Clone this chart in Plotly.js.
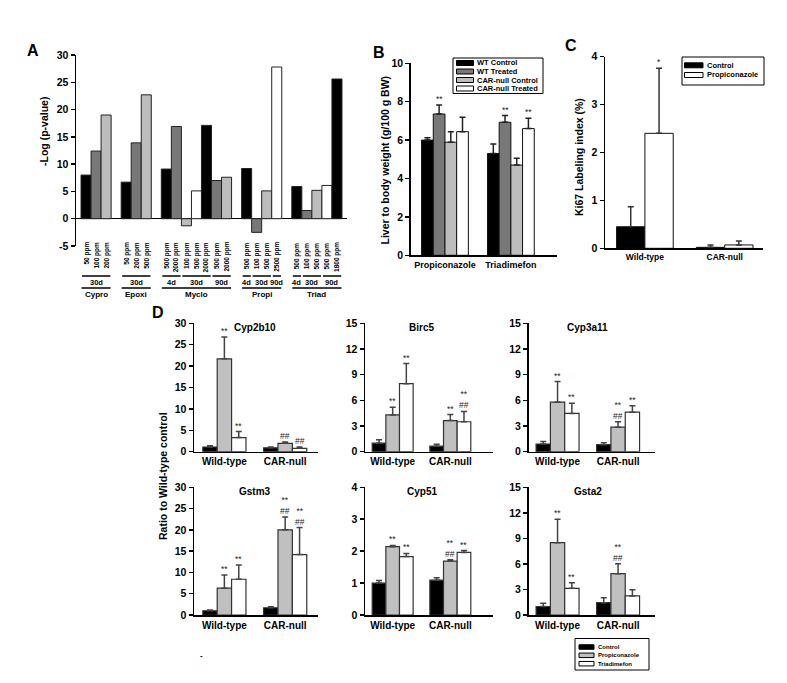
<!DOCTYPE html>
<html><head><meta charset="utf-8">
<script src="https://cdn.plot.ly/plotly-3.0.1.min.js"></script>
<style>html,body{margin:0;padding:0;background:#fff}#chart{width:787px;height:683px}</style>
</head><body><div id="chart"></div><script>
// ---------------- Panel A data ----------------
const aCompounds = ['Cypro','Epoxi','Myclo','Propi','Triad'];
const aDoses = [
  ['50 ppm','100 ppm','200 ppm'],
  ['50 ppm','200 ppm','500 ppm'],
  ['500 ppm','2000 ppm','100 ppm','500 ppm','2000 ppm','500 ppm','2000 ppm'],
  ['500 ppm','100 ppm','500 ppm','2500 ppm'],
  ['500 ppm','100 ppm','500 ppm','500 ppm','1800 ppm']
];
const aDays = [
  ['30d','30d','30d'],
  ['30d','30d','30d'],
  ['4d','4d','30d','30d','30d','90d','90d'],
  ['4d','30d','30d','90d'],
  ['4d','30d','30d','90d','90d']
];
const aValues = [
  [8.0,12.4,19.0],
  [6.7,13.9,22.7],
  [9.1,16.9,-1.3,5.1,17.1,7.0,7.6],
  [9.2,-2.5,5.1,27.8],
  [5.9,1.5,5.2,6.1,25.6]
];
const aTicks = [-5,0,5,10,15,20,25,30];
const aTickText = ['-5','0','5','10','15','20','25','30'];

// ---------------- Panel B data ----------------
const bCategories = ['Propiconazole','Triadimefon'];
const bSeries = ['WT Control','WT Treated','CAR-null Control','CAR-null Treated'];
const bValues = [[6.0,5.3],[7.36,6.93],[5.89,4.7],[6.44,6.6]];
const bErrors = [[0.12,0.5],[0.47,0.35],[0.55,0.35],[0.75,0.54]];
const bMarks = [['',''],['**','**'],['',''],['','**']];

// ---------------- Panel C data ----------------
const cCategories = ['Wild-type','CAR-null'];
const cSeries = ['Control','Propiconazole'];
const cValues = [[0.45,0.02],[2.4,0.07]];
const cErrors = [[0.42,0.05],[1.36,0.08]];
const cMarks = [['',''],['*','']];

// ---------------- Panel D data ----------------
const dCategories = ['Wild-type','CAR-null'];
const dSeries = ['Control','Propiconazole','Triadimefon'];
const dGenes = ['Cyp2b10','Birc5','Cyp3a11','Gstm3','Cyp51','Gsta2'];
const dAxisMax = [30,15,15,30,4,15];
const dAxisStep = [5,3,3,5,1,3];
const cyp2b10Values = [[1.1,0.9],[21.7,1.95],[3.3,0.78]];
const cyp2b10Errors = [[0.3,0.2],[5.1,0.3],[1.4,0.3]];
const cyp2b10Marks  = [['',''],['**','##'],['**','##']];
const birc5Values = [[1.0,0.65],[4.3,3.64],[7.95,3.5]];
const birc5Errors = [[0.4,0.22],[0.9,0.7],[2.35,1.2]];
const birc5Marks  = [['',''],['**','**'],['**','**<br>##']];
const cyp3a11Values = [[0.9,0.82],[5.8,2.86],[4.47,4.62]];
const cyp3a11Errors = [[0.28,0.24],[2.4,0.65],[1.2,0.75]];
const cyp3a11Marks  = [['',''],['**','**<br>##'],['**','**']];
const gstm3Values = [[1.0,1.7],[6.3,20.0],[8.4,14.2]];
const gstm3Errors = [[0.2,0.25],[3.1,3.0],[3.35,6.35]];
const gstm3Marks  = [['',''],['**','**<br>##'],['**','**<br>##']];
const cyp51Values = [[1.0,1.09],[2.14,1.69],[1.83,1.96]];
const cyp51Errors = [[0.08,0.08],[0.04,0.04],[0.1,0.06]];
const cyp51Marks  = [['',''],['**','**<br>##'],['**','**']];
const gsta2Values = [[1.0,1.45],[8.5,4.85],[3.13,2.24]];
const gsta2Errors = [[0.37,0.57],[2.75,1.18],[0.67,0.74]];
const gsta2Marks  = [['',''],['**','**<br>##'],['**','']];
const dValues = [cyp2b10Values,birc5Values,cyp3a11Values,gstm3Values,cyp51Values,gsta2Values];
const dErrors = [cyp2b10Errors,birc5Errors,cyp3a11Errors,gstm3Errors,cyp51Errors,gsta2Errors];
const dMarks  = [cyp2b10Marks,birc5Marks,cyp3a11Marks,gstm3Marks,cyp51Marks,gsta2Marks];

// ---------------- styling / layout helpers ----------------
const F = 'Liberation Sans, Arial, Helvetica, sans-serif';
const W = 787, H = 683;
const px = v => v / W;
const py = v => 1 - v / H;
const BARGAP = 0.29;
const BLACK = '#000000', DARK = '#787878', LIGHT = '#bdbdbd', WHITE = '#ffffff';
const aPalette = [BLACK, DARK, LIGHT, WHITE];
const bColors = [BLACK, DARK, LIGHT, WHITE];
const cColors = [BLACK, WHITE];
const dColors = [BLACK, '#c0c0c0', WHITE];

const traces = [], annotations = [], shapes = [];
const layout = {
  width: W, height: H, margin: {l:0, r:0, t:0, b:0},
  paper_bgcolor: '#fff', plot_bgcolor: 'rgba(0,0,0,0)',
  showlegend: false, barmode: 'group', bargap: BARGAP, bargroupgap: 0,
  font: {family: F, color: '#000'},
  annotations, shapes
};

function yAxis(domain, range, dtick, anchor, fs) {
  return {domain, range, dtick, tick0: 0, anchor, showline: true, linecolor: '#000', linewidth: 1.5,
    ticks: 'outside', ticklen: 4, tickwidth: 1.5, tickcolor: '#000', showgrid: false, zeroline: false,
    tickfont: {family: F, size: fs || 10.5, weight: 'bold', color: '#000'}, fixedrange: true};
}
function xAxis(domain, range, anchor, fs) {
  return {domain, range, anchor, type: 'category', showline: true, linecolor: '#000', linewidth: 1.5,
    ticks: '', showgrid: false, zeroline: false,
    tickfont: {family: F, size: fs, weight: 'bold', color: '#000'}, fixedrange: true};
}
function text(x, y, t, size, opts) {
  annotations.push(Object.assign({xref: 'paper', yref: 'paper', x, y, text: t, showarrow: false,
    xanchor: 'center', yanchor: 'middle',
    font: {family: F, size, weight: 'bold', color: '#000'}}, opts || {}));
}
function marks(values, errors, labels, xref, yref) {
  const n = values.length;
  values.forEach((vals, s) => vals.forEach((v, c) => {
    if (!labels[s][c]) return;
    annotations.push({xref, yref, x: c + (s - (n - 1) / 2) * (1 - BARGAP) / n, y: v + errors[s][c],
      text: labels[s][c], showarrow: false, yanchor: 'bottom', xanchor: 'center', borderpad: 0,
      font: {family: F, size: 8.5, color: '#222'}});
  }));
}
function drawLegend(names, colors, box, sw, txtX, ys, fs, swH) {
  shapes.push({type: 'rect', xref: 'paper', yref: 'paper', x0: px(box[0]), x1: px(box[2]),
    y0: py(box[3]), y1: py(box[1]), line: {color: '#000', width: 1}, fillcolor: '#fff'});
  names.forEach((n, i) => {
    shapes.push({type: 'rect', xref: 'paper', yref: 'paper', x0: px(sw[0]), x1: px(sw[1]),
      y0: py(ys[i] + swH / 2), y1: py(ys[i] - swH / 2), line: {color: '#000', width: 1}, fillcolor: colors[i]});
    text(px(txtX), py(ys[i]), n, fs, {xanchor: 'left', yanchor: 'middle'});
  });
}
function groupedBars(cats, series, values, errors, colors, ax, lineColor, lineW, errColor) {
  series.forEach((name, s) => traces.push({
    type: 'bar', name, x: cats, y: values[s], xaxis: 'x' + ax, yaxis: 'y' + ax,
    marker: {color: colors[s], line: {color: lineColor, width: lineW}},
    error_y: {type: 'data', symmetric: false, array: errors[s], arrayminus: values[s].map(() => 0),
      color: errColor, thickness: 1.5, width: 3},
    hoverinfo: 'x+y+name'
  }));
}

// ---------------- Panel A ----------------
const aX = [], aY = [], aC = [], aText = [], aGroups = [];
let slot = 0;
aCompounds.forEach((comp, ci) => {
  const start = slot;
  aValues[ci].forEach((v, j) => {
    aX.push(slot); aY.push(v); aC.push(aPalette[j % 4]);
    aText.push(comp + ' ' + aDays[ci][j] + ' ' + aDoses[ci][j]);
    text(slot, py(240), aDoses[ci][j], 6.5, {xref: 'x', textangle: -90, yanchor: 'top', xanchor: 'center'});
    slot++;
  });
  aGroups.push({comp, ci, start, end: slot - 1});
  slot++;
});
traces.push({type: 'bar', x: aX, y: aY, width: 1, text: aText, hoverinfo: 'text+y', textposition: 'none',
  marker: {color: aC, line: {color: '#222', width: 1}}, xaxis: 'x', yaxis: 'y'});
layout.xaxis = {domain: [px(76), px(347)], range: [-1, 26], anchor: 'y', showline: false, showticklabels: false,
  ticks: '', showgrid: false, zeroline: false, fixedrange: true};
layout.yaxis = Object.assign(yAxis([py(246), py(55)], [-5, 30], 5, 'x'),
  {zeroline: true, zerolinecolor: '#000', zerolinewidth: 1.5, tickvals: aTicks, ticktext: aTickText});
aGroups.forEach(g => {
  const days = aDays[g.ci];
  let runStart = 0;
  for (let j = 1; j <= days.length; j++) {
    if (j === days.length || days[j] !== days[runStart]) {
      const s0 = g.start + runStart, s1 = g.start + j - 1;
      shapes.push({type: 'line', xref: 'x', yref: 'paper', x0: s0 - 0.4, x1: s1 + 0.42, y0: py(276), y1: py(276),
        line: {color: '#000', width: 1.5}});
      text((s0 + s1) / 2, py(282.5), days[runStart], 7.5, {xref: 'x'});
      runStart = j;
    }
  }
  shapes.push({type: 'line', xref: 'x', yref: 'paper', x0: g.start - 0.45, x1: g.end + 0.45, y0: py(288), y1: py(288),
    line: {color: '#000', width: 1.5}});
  text((g.start + g.end) / 2, py(294.5), g.comp, 8, {xref: 'x'});
});
text(px(44), py(132), '-Log (p-value)', 10.5, {textangle: -90});
text(px(33), py(50), 'A', 16);

// ---------------- Panel B ----------------
groupedBars(bCategories, bSeries, bValues, bErrors, bColors, 2, '#111', 1, '#222');
layout.xaxis2 = xAxis([px(410.7), px(557)], [-0.52, 1.70], 'y2', 9);
layout.yaxis2 = yAxis([py(255.3), py(63.3)], [0, 10], 2, 'x2');
marks(bValues, bErrors, bMarks, 'x2', 'y2');
text(px(384.5), py(160), 'Liver to body weight (g/100 g BW)', 10.5, {textangle: -90});
text(px(379), py(52), 'B', 16);
drawLegend(bSeries, bColors, [453, 58, 543, 93.5], [456.5, 473.5], 475, [63, 71.5, 80, 88.5], 7.5, 5);

// ---------------- Panel C ----------------
groupedBars(cCategories, cSeries, cValues, cErrors, cColors, 3, '#111', 1, '#333');
layout.xaxis3 = xAxis([px(605), px(763)], [-0.5, 1.48], 'y3', 8.5);
layout.yaxis3 = yAxis([py(248.3), py(56.7)], [0, 4], 1, 'x3');
marks(cValues, cErrors, cMarks, 'x3', 'y3');
text(px(579), py(157), 'Ki67 Labeling index (%)', 10.5, {textangle: -90});
text(px(571), py(46), 'C', 16);
drawLegend(cSeries, cColors, [682, 57, 764, 85], [684.5, 703], 705, [65.3, 75], 7.5, 5);

// ---------------- Panel D ----------------
const dCols = [[194, 318, [-0.5, 1.54]], [365, 493, [-0.48, 1.74]], [528.5, 655, [-0.48, 1.61]]];
const dRows = [[323.3, 451.7], [487.3, 615]];
dGenes.forEach((gene, k) => {
  const ax = 4 + k;
  const col = dCols[k % 3], row = dRows[Math.floor(k / 3)];
  groupedBars(dCategories, dSeries, dValues[k], dErrors[k], dColors, ax, '#333', 1.2, '#444');
  layout['xaxis' + ax] = xAxis([px(col[0]), px(col[1])], col[2], 'y' + ax, 10);
  layout['yaxis' + ax] = yAxis([py(row[1]), py(row[0])], [0, dAxisMax[k]], dAxisStep[k], 'x' + ax);
  marks(dValues[k], dErrors[k], dMarks[k], 'x' + ax, 'y' + ax);
  annotations.push({xref: 'x' + ax, yref: 'paper', x: 0.5, y: py(row[0] + 4.5), text: gene, showarrow: false,
    xanchor: 'center', yanchor: 'middle', font: {family: F, size: 10, weight: 'bold', color: '#000'}});
});
text(px(163), py(476), 'Ratio to Wild-type control', 10.5, {textangle: -90});
text(px(158), py(312), 'D', 16);
drawLegend(dSeries, dColors, [575, 638.5, 649, 670], [579, 594], 595.5, [647, 655.3, 663.7], 6, 4.5);
text(px(201), py(655), '-', 8);

Plotly.newPlot('chart', traces, layout, {displayModeBar: false, staticPlot: true});
</script></body></html>
